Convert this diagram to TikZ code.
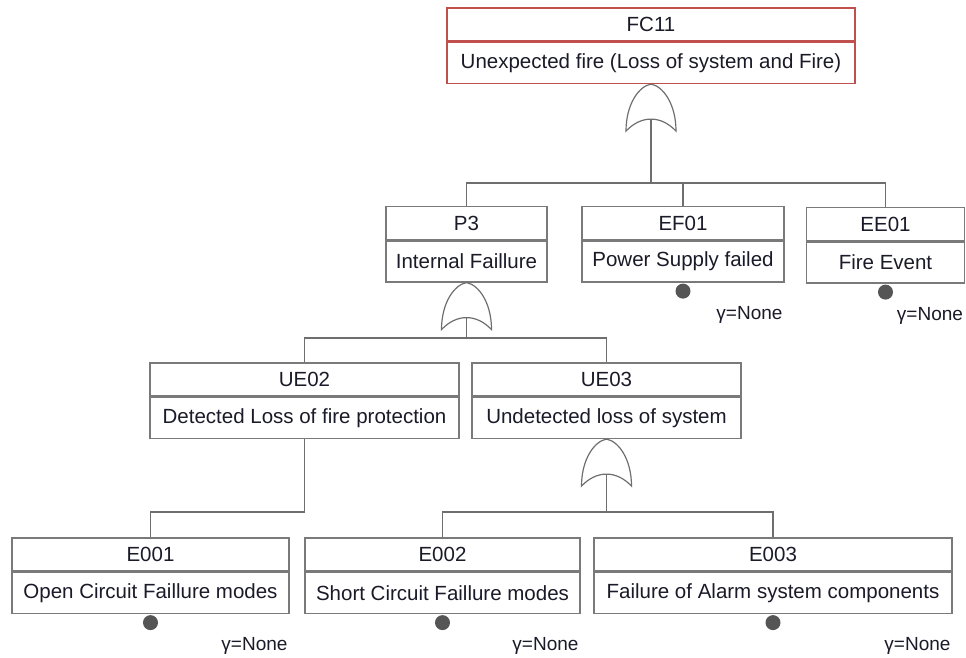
\documentclass[tikz,border=0pt]{standalone}
\usepackage{fontspec}
\setmainfont{Liberation Sans}
\definecolor{boxc}{HTML}{7A7A7A}
\definecolor{linec}{HTML}{6E6E6E}
\definecolor{redc}{HTML}{C0504D}
\definecolor{txt}{HTML}{1A1A28}
\definecolor{dotc}{HTML}{555555}
\newcommand{\fsz}{\fontsize{20.5}{24}\selectfont}
\newcommand{\gsz}{\fontsize{19}{22}\selectfont}
\tikzset{
  hdr/.style={draw=boxc, line width=1.4pt, minimum height=33pt, inner sep=0pt, font=\fsz, text=txt},
  dsc/.style={draw=boxc, line width=1.4pt, minimum height=41pt, inner sep=0pt, font=\fsz, text=txt, anchor=north},
  conn/.style={draw=linec, line width=1.4pt},
  basicev/.style={circle, fill=dotc, minimum size=15pt, inner sep=0pt},
  gam/.style={font=\gsz, anchor=east, text=txt, inner sep=0pt},
  orgate/.pic={
    \draw[draw=linec, line width=1.2pt] (-25,47) .. controls (-25,20) and (-12,2) .. (0,0)
      .. controls (12,2) and (25,20) .. (25,47)
      .. controls (10,31) and (-10,31) .. cycle;
    \coordinate (-in) at (0,35);
  }
}
\begin{document}
\begin{tikzpicture}[x=1pt, y=-1pt]
\useasboundingbox (0,0) rectangle (966,657);
% top event
\node[hdr, draw=redc, minimum width=408pt] (fc11h) at (651,24.5) {FC11};
\node[dsc, draw=redc, minimum width=408pt] (fc11d) at (fc11h.south) {Unexpected fire (Loss of system and Fire)};
% level 1
\node[hdr, minimum width=161pt] (p3h) at (466.5,223) {P3};
\node[dsc, minimum width=161pt] (p3d) at (p3h.south) {Internal Faillure};
\node[hdr, minimum width=202pt] (ef01h) at (683,223) {EF01};
\node[dsc, minimum width=202pt] (ef01d) at (ef01h.south) {Power Supply failed};
\node[hdr, minimum width=158pt] (ee01h) at (885.5,224) {EE01};
\node[dsc, minimum width=158pt] (ee01d) at (ee01h.south) {Fire Event};
% level 2
\node[hdr, minimum width=309pt] (ue02h) at (304.5,379.5) {UE02};
\node[dsc, minimum width=309pt] (ue02d) at (ue02h.south) {Detected Loss of fire protection};
\node[hdr, minimum width=269pt] (ue03h) at (606.5,379.5) {UE03};
\node[dsc, minimum width=269pt] (ue03d) at (ue03h.south) {Undetected loss of system};
% level 3
\node[hdr, minimum width=277pt] (e001h) at (150.5,554.5) {E001};
\node[dsc, minimum width=277pt] (e001d) at (e001h.south) {Open Circuit Faillure modes};
\node[hdr, minimum width=275pt] (e002h) at (442.5,554.5) {E002};
\node[dsc, minimum width=275pt] (e002d) at (e002h.south) {Short Circuit Faillure modes};
\node[hdr, minimum width=358pt] (e003h) at (773,554.5) {E003};
\node[dsc, minimum width=358pt] (e003d) at (e003h.south) {Failure of Alarm system components};
% gates
\pic (g1) at (fc11d.south) {orgate};
\pic (g2) at (p3d.south) {orgate};
\pic (g3) at (ue03d.south) {orgate};
% bus coordinates
\coordinate (b1) at (0,183);
\coordinate (b2) at (0,338);
\coordinate (b3) at (0,512);
% connectors
\draw[conn] (g1-in) -- (g1-in |- b1);
\draw[conn] (p3h.north) |- (ee01h.north |- b1) -- (ee01h.north);
\draw[conn] (ef01h.north) -- (ef01h.north |- b1);
\draw[conn] (g2-in) -- (g2-in |- b2);
\draw[conn] (ue02h.north) |- (ue03h.north |- b2) -- (ue03h.north);
\draw[conn] (ue02d.south) |- (e001h.north |- b3) -- (e001h.north);
\draw[conn] (g3-in) -- (g3-in |- b3);
\draw[conn] (e002h.north) |- (e003h.north |- b3) -- (e003h.north);
% basic event markers
\foreach \n in {ef01d, ee01d, e001d, e002d, e003d}{
  \node[basicev] (dot-\n) at ([yshift=-8.5pt]\n.south) {};
  \node[gam] (gam-\n) at ([xshift=-2pt,yshift=-32pt]\n.south east) {γ=None};
}
\end{tikzpicture}
\end{document}
